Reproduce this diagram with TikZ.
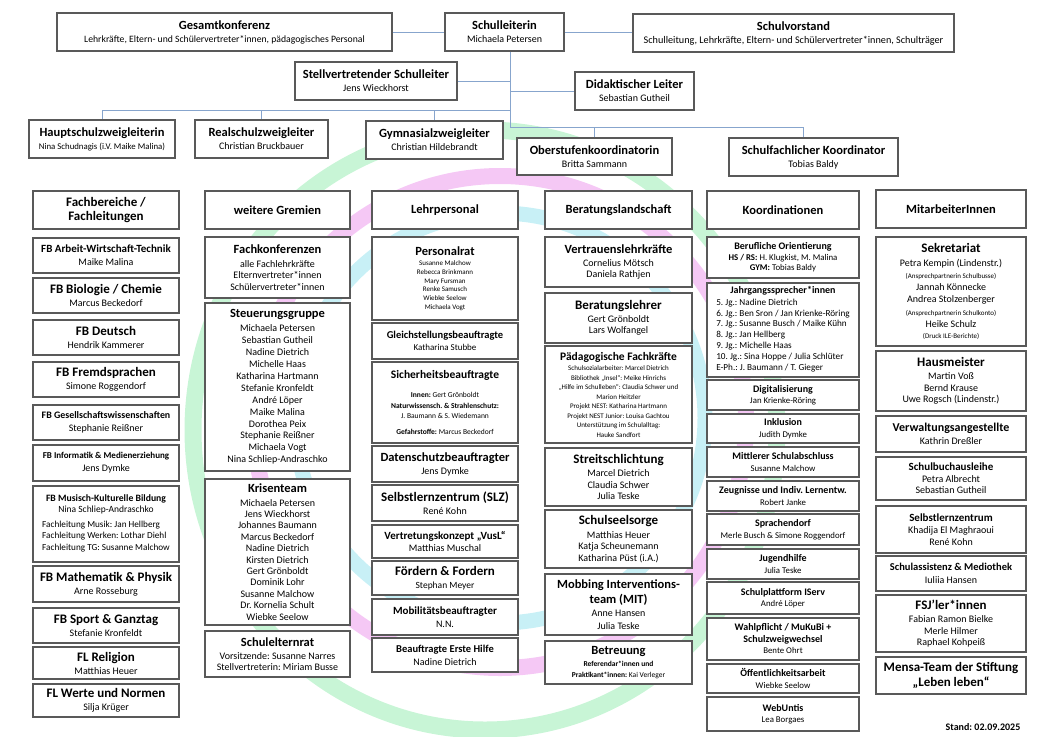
\documentclass[tikz,border=0pt]{standalone}
\usepackage{fontspec}
\setmainfont{Carlito}
\usepackage{tikz}
\frenchspacing
\definecolor{ringgruen}{RGB}{200,245,214}
\definecolor{ringrosa}{RGB}{245,200,245}
\definecolor{ringcyan}{RGB}{200,240,246}
\definecolor{linienblau}{RGB}{135,165,205}
\newcommand{\titel}[2]{{\bfseries\fontsize{#1}{#1}\selectfont #2}}
\newcommand{\klein}[2]{{\fontsize{#1}{#1}\selectfont #2}}
\tikzstyle{kasten}=[draw=black!65, line width=1.1pt, fill=white, align=center, inner sep=0pt, font=\fontsize{10}{12}\selectfont]
\tikzstyle{oben}=[font=\fontsize{10}{11.5}\selectfont]
\tikzstyle{ko}=[font=\fontsize{8.8}{10.5}\selectfont]
\tikzstyle{linie}=[draw=linienblau, line width=1pt]
% [style]{name}{x1}{y1}{x2}{y2}{text}
\newcommand{\orgbox}[7][]{\node[kasten, #1, minimum width={(#5-#3)*1pt}, minimum height={(#6-#4)*1pt}] (#2) at ({(#3+#5)/2},{(#4+#6)/2}) {#7};}

\begin{document}
\begin{tikzpicture}[x=1pt, y=-1pt]
  \useasboundingbox (0,0) rectangle (1040,736);
  % Ringe im Hintergrund
  \draw[ringgruen, line width=17] (485,430) ellipse[x radius=292, y radius=300];
  \draw[ringrosa, line width=16] (500,422) circle[radius=246];
  \draw[ringcyan, line width=15] (500,418) circle[radius=205];

  % Leitung
  \orgbox[oben]{gk}{57}{13}{392}{51}{\titel{12.5}{Gesamtkonferenz}\\[1.5pt]\klein{9.7}{Lehrkräfte, Eltern- und Schülervertreter*innen, pädagogisches Personal}}
  \orgbox[oben]{sl}{445}{13}{564}{51}{\titel{12.5}{Schulleiterin}\\[1.5pt]Michaela Petersen}
  \orgbox[oben]{sv}{633}{14}{954}{52}{\titel{12.5}{Schulvorstand}\\[1.5pt]\klein{10.2}{Schulleitung, Lehrkräfte, Eltern- und Schülervertreter*innen, Schulträger}}
  \orgbox[oben]{stv}{295}{62}{457}{100}{\titel{12.5}{Stellvertretender Schulleiter}\\[1.5pt]Jens Wieckhorst}
  \orgbox[oben]{dl}{575}{72}{694}{110}{\titel{12.5}{Didaktischer Leiter}\\[1.5pt]Sebastian Gutheil}
  \orgbox[oben]{hz}{29}{120}{175}{158}{\titel{12.5}{Hauptschulzweigleiterin}\\[1.5pt]\klein{8.8}{Nina Schudnagis (i.V. Maike Malina)}}
  \orgbox[oben]{rz}{195}{120}{328}{158}{\titel{12.5}{Realschulzweigleiter}\\[1.5pt]Christian Bruckbauer}
  \orgbox[oben]{gz}{366}{121}{503}{159}{\titel{12.5}{Gymnasialzweigleiter}\\[1.5pt]Christian Hildebrandt}
  \orgbox[oben]{osk}{517}{138}{672}{175}{\titel{12.5}{Oberstufenkoordinatorin}\\[1.5pt]Britta Sammann}
  \orgbox[oben]{sfk}{729}{138}{898}{176}{\titel{12.5}{Schulfachlicher Koordinator}\\[1.5pt]Tobias Baldy}

  \coordinate (ast) at (510,110);
  \coordinate (stamm) at (510,127);
  \draw[linie] (gk) -- (sl);
  \draw[linie] (sl.east) -- (sl.east -| sv.west);
  \draw[linie] (sl.south -| stamm) -- (stamm);
  \draw[linie] (stv.east) -- (stv.east -| stamm);
  \draw[linie] (dl.west -| stamm) -- (dl.west);
  \draw[linie] (ast) -| (hz.north);
  \draw[linie] (ast) -| (rz.north);
  \draw[linie] (ast) -| (gz.north);
  \draw[linie] (stamm) -| (osk.north);
  \draw[linie] (stamm) -| ([xshift=-10pt]sfk.north);

  % Fachbereiche
  \orgbox{fb0}{33}{191}{179}{229}{\titel{13}{Fachbereiche /}\\[2.5pt]\titel{13}{Fachleitungen}}
  \orgbox{fb1}{33}{238}{179}{273}{\titel{11}{FB Arbeit-Wirtschaft-Technik}\\[1pt]Maike Malina}
  \orgbox{fb2}{33}{278}{179}{313}{\titel{13}{FB Biologie / Chemie}\\[1pt]Marcus Beckedorf}
  \orgbox{fb3}{33}{320}{179}{355}{\titel{13}{FB Deutsch}\\[1pt]Hendrik Kammerer}
  \orgbox{fb4}{33}{362}{179}{397}{\titel{13}{FB Fremdsprachen}\\[1pt]Simone Roggendorf}
  \orgbox{fb5}{33}{405}{179}{440}{\titel{9.9}{FB Gesellschaftswissenschaften}\\[1pt]Stephanie Reißner}
  \orgbox{fb6}{33}{445}{179}{481}{\titel{9}{FB Informatik \& Medienerziehung}\\[1pt]Jens Dymke}
  \orgbox[font=\fontsize{9.5}{11.5}\selectfont]{fb7}{33}{486}{179}{562}{\titel{9.7}{FB Musisch-Kulturelle Bildung}\\Nina Schliep-Andraschko\\[3pt]{\fontsize{9.2}{11.5}\selectfont\begin{tabular}[t]{@{}l@{}}Fachleitung Musik: Jan Hellberg\\Fachleitung Werken: Lothar Diehl\\Fachleitung TG: Susanne Malchow\end{tabular}}}
  \orgbox{fb8}{33}{566}{179}{602}{\titel{13}{FB Mathematik \& Physik}\\[1pt]Arne Rosseburg}
  \orgbox{fb9}{33}{608}{179}{643}{\titel{13}{FB Sport \& Ganztag}\\[1pt]Stefanie Kronfeldt}
  \orgbox{fb10}{33}{647}{179}{679}{\titel{13}{FL Religion}\\[1pt]Matthias Heuer}
  \orgbox{fb11}{33}{684}{179}{717}{\titel{13}{FL Werte und Normen}\\[1pt]Silja Krüger}

  % weitere Gremien
  \orgbox{wg0}{205}{191}{350}{229}{\titel{12.5}{weitere Gremien}}
  \orgbox[font=\fontsize{10}{11.5}\selectfont]{wg1}{205}{237}{350}{298}{\titel{12.5}{Fachkonferenzen}\\[2pt]alle Fachlehrkräfte\\Elternvertreter*innen\\Schülervertreter*innen}
  \orgbox[font=\fontsize{10}{11.9}\selectfont]{wg2}{205}{303}{350}{471}{\titel{12.5}{Steuerungsgruppe}\\[2pt]Michaela Petersen\\Sebastian Gutheil\\Nadine Dietrich\\Michelle Haas\\Katharina Hartmann\\Stefanie Kronfeldt\\André Löper\\Maike Malina\\Dorothea Peix\\Stephanie Reißner\\Michaela Vogt\\Nina Schliep-Andraschko}
  \orgbox[font=\fontsize{10}{11.4}\selectfont]{wg3}{205}{479}{350}{625}{\titel{12.5}{Krisenteam}\\[2pt]Michaela Petersen\\Jens Wieckhorst\\Johannes Baumann\\Marcus Beckedorf\\Nadine Dietrich\\Kirsten Dietrich\\Gert Grönboldt\\Dominik Lohr\\Susanne Malchow\\Dr. Kornelia Schult\\Wiebke Seelow}
  \orgbox[font=\fontsize{10}{11.5}\selectfont]{wg4}{205}{631}{350}{677}{\titel{12.5}{Schulelternrat}\\[1.5pt]Vorsitzende: Susanne Narres\\Stellvertreterin: Miriam Busse}

  % Lehrpersonal
  \orgbox{lp0}{372}{191}{518}{229}{\titel{12.5}{Lehrpersonal}}
  \orgbox[font=\fontsize{7}{8.8}\selectfont]{lp1}{372}{237}{518}{320}{\titel{12.5}{Personalrat}\\[1.5pt]Susanne Malchow\\Rebecca Brinkmann\\Mary Fursman\\Renke Samusch\\Wiebke Seelow\\Michaela Vogt}
  \orgbox[font=\fontsize{9}{11.5}\selectfont]{lp2}{372}{323}{518}{359}{\titel{10.5}{Gleichstellungsbeauftragte}\\[0.5pt]Katharina Stubbe}
  \orgbox[font=\fontsize{7.5}{9.5}\selectfont]{lp3}{372}{362}{518}{443}{\titel{11.5}{Sicherheitsbeauftragte}\\[10pt]\textbf{Innen:} Gert Grönboldt\\[1.5pt]\textbf{Naturwissensch. \& Strahlenschutz:}\\J. Baumann \& S. Wiedemann\\[7pt]\textbf{Gefahrstoffe:} Marcus Beckedorf}
  \orgbox{lp4}{372}{446}{518}{482}{\titel{12.5}{Datenschutzbeauftragter}\\[1pt]Jens Dymke}
  \orgbox{lp5}{372}{485}{518}{521}{\titel{13}{Selbstlernzentrum (SLZ)}\\[1pt]René Kohn}
  \orgbox{lp6}{372}{525}{518}{558}{\titel{11}{Vertretungskonzept „VusL“}\\Matthias Muschal}
  \orgbox{lp7}{372}{561}{518}{595}{\titel{13}{Fördern \& Fordern}\\[1pt]\klein{9.5}{Stephan Meyer}}
  \orgbox{lp8}{372}{599}{518}{635}{\titel{11}{Mobilitätsbeauftragter}\\[1pt]N.N.}
  \orgbox{lp9}{372}{638}{518}{672}{\titel{10.5}{Beauftragte Erste Hilfe}\\[1pt]Nadine Dietrich}

  % Beratungslandschaft
  \orgbox{bl0}{545}{191}{692}{229}{\titel{12.5}{Beratungslandschaft}}
  \orgbox[font=\fontsize{10}{10.8}\selectfont]{bl1}{545}{237}{692}{287}{\titel{12.5}{Vertrauenslehrkräfte}\\[2.5pt]Cornelius Mötsch\\Daniela Rathjen}
  \orgbox[font=\fontsize{10}{10.8}\selectfont]{bl2}{545}{293}{692}{343}{\titel{13}{Beratungslehrer}\\[2.5pt]Gert Grönboldt\\Lars Wolfangel}
  \orgbox[font=\fontsize{7}{9.5}\selectfont]{bl3}{545}{346}{692}{443}{\titel{11.5}{Pädagogische Fachkräfte}\\[1pt]Schulsozialarbeiter: Marcel Dietrich\\Bibliothek „Insel“: Meike Hinrichs\\„Hilfe im Schulleben“: Claudia Schwer und\\Marion Heitzler\\Projekt NEST: Katharina Hartmann\\Projekt NEST Junior: Louisa Gachtou\\Unterstützung im Schulalltag:\\Hauke Sandfort}
  \orgbox[font=\fontsize{10}{11.5}\selectfont]{bl4}{545}{448}{692}{506}{\titel{13}{Streitschlichtung}\\[2pt]Marcel Dietrich\\Claudia Schwer\\Julia Teske}
  \orgbox[font=\fontsize{10}{11.5}\selectfont]{bl5}{545}{510}{692}{568}{\titel{13}{Schulseelsorge}\\[2pt]Matthias Heuer\\Katja Scheunemann\\Katharina Püst (i.A.)}
  \orgbox[font=\fontsize{10}{12.5}\selectfont]{bl6}{545}{574}{692}{635}{\titel{12.5}{Mobbing Interventions-}\\[2pt]\titel{12.5}{team (MIT)}\\[1pt]Anne Hansen\\Julia Teske}
  \orgbox[font=\fontsize{7.5}{10.5}\selectfont]{bl7}{545}{641}{692}{684}{\titel{12.5}{Betreuung}\\[2pt]\textbf{Referendar*innen und}\\\textbf{Praktikant*innen:} Kai Verleger}

  % Koordinationen
  \orgbox{ko0}{707}{191}{859}{229}{\titel{12.5}{Koordinationen}}
  \orgbox[ko]{ko1}{707}{237}{859}{278}{\titel{10}{Berufliche Orientierung}\\\textbf{HS / RS:} H. Klugkist, M. Malina\\\textbf{GYM:} Tobias Baldy}
  \orgbox[font=\fontsize{9.2}{10.8}\selectfont]{ko2}{707}{283}{859}{377}{\titel{10}{Jahrgangssprecher*innen}\\[0.5pt]\begin{tabular}[t]{@{}l@{}}5. Jg.: Nadine Dietrich\\6. Jg.: Ben Sron / Jan Krienke-Röring\\7. Jg.: Susanne Busch / Maike Kühn\\8. Jg.: Jan Hellberg\\9. Jg.: Michelle Haas\\10. Jg.: Sina Hoppe / Julia Schlüter\\E-Ph.: J. Baumann / T. Gieger\end{tabular}}
  \orgbox[ko]{ko3}{707}{380}{859}{410}{\titel{10}{Digitalisierung}\\[1pt]Jan Krienke-Röring}
  \orgbox[ko]{ko4}{707}{414}{859}{443}{\titel{10}{Inklusion}\\[1pt]Judith Dymke}
  \orgbox[ko]{ko5}{707}{447}{859}{477}{\titel{10}{Mittlerer Schulabschluss}\\[1pt]Susanne Malchow}
  \orgbox[ko]{ko6}{707}{481}{859}{511}{\titel{10}{Zeugnisse und Indiv. Lernentw.}\\[1pt]Robert Janke}
  \orgbox[ko]{ko7}{707}{514}{859}{545}{\titel{10}{Sprachendorf}\\[1pt]Merle Busch \& Simone Roggendorf}
  \orgbox[ko]{ko8}{707}{549}{859}{579}{\titel{10}{Jugendhilfe}\\[1pt]Julia Teske}
  \orgbox[ko]{ko9}{707}{582}{859}{614}{\titel{10}{Schulplattform IServ}\\[1pt]André Löper}
  \orgbox[ko]{ko10}{707}{618}{859}{660}{\titel{10}{Wahlpflicht / MuKuBi +}\\[1.5pt]\titel{10}{Schulzweigwechsel}\\[0.5pt]Bente Ohrt}
  \orgbox[ko]{ko11}{707}{664}{859}{693}{\titel{10}{Öffentlichkeitsarbeit}\\[1pt]Wiebke Seelow}
  \orgbox[ko]{ko12}{707}{697}{859}{731}{\titel{10}{WebUntis}\\[1pt]Lea Borgaes}

  % MitarbeiterInnen
  \orgbox{ma0}{876}{190}{1026}{228}{\titel{12.5}{MitarbeiterInnen}}
  \orgbox[font=\fontsize{10}{12.2}\selectfont]{ma1}{876}{237}{1026}{346}{\titel{13}{Sekretariat}\\[1.5pt]Petra Kempin (Lindenstr.)\\\klein{7}{(Ansprechpartnerin Schulbusse)}\\Jannah Könnecke\\Andrea Stolzenberger\\\klein{7}{(Ansprechpartnerin Schulkonto)}\\Heike Schulz\\[-1pt]\klein{7}{(Druck ILE-Berichte)}}
  \orgbox[font=\fontsize{10}{11.5}\selectfont]{ma2}{876}{351}{1026}{411}{\titel{13}{Hausmeister}\\[2pt]Martin Voß\\Bernd Krause\\Uwe Rogsch (Lindenstr.)}
  \orgbox{ma3}{876}{416}{1026}{452}{\titel{12}{Verwaltungsangestellte}\\[1pt]Kathrin Dreßler}
  \orgbox[font=\fontsize{10}{11.5}\selectfont]{ma4}{876}{457}{1026}{500}{\titel{11}{Schulbuchausleihe}\\Petra Albrecht\\Sebastian Gutheil}
  \orgbox[font=\fontsize{10}{12}\selectfont]{ma5}{876}{506}{1026}{553}{\titel{11}{Selbstlernzentrum}\\Khadija El Maghraoui\\René Kohn}
  \orgbox{ma6}{876}{556}{1026}{591}{\titel{10.5}{Schulassistenz \& Mediothek}\\[1pt]Iuliia Hansen}
  \orgbox[font=\fontsize{10}{11.3}\selectfont]{ma7}{876}{595}{1026}{652}{\titel{13}{FSJ’ler*innen}\\[2pt]Fabian Ramon Bielke\\Merle Hilmer\\Raphael Kohpeiß}
  \orgbox[font=\fontsize{13}{15.5}\selectfont]{ma8}{876}{657}{1026}{694}{\titel{13}{Mensa-Team der Stiftung}\\\titel{13}{„Leben leben“}}

  \node (stand) at (983,727) {\titel{10}{Stand: 02.09.2025}};
\end{tikzpicture}
\end{document}
